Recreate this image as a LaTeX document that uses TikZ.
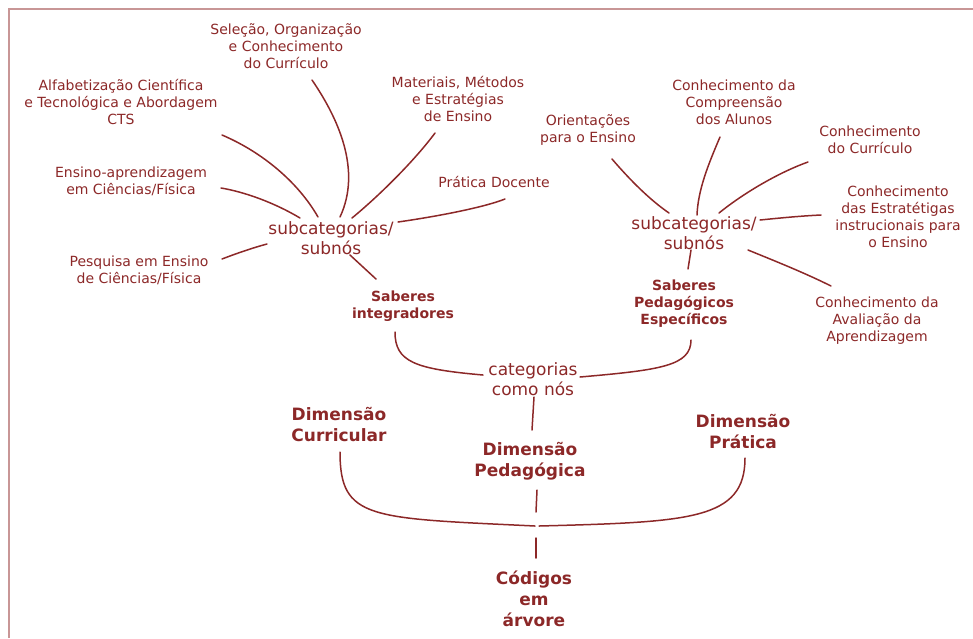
\documentclass[tikz,border=0pt]{standalone}
\usepackage{fontspec}
\setmainfont{DejaVu Sans}
\definecolor{ink}{RGB}{140,40,40}
\definecolor{frame}{RGB}{200,150,150}
\tikzset{
  lbl/.style={text=ink,inner sep=0pt,align=center,font=\fontsize{14}{17}\selectfont},
  sublbl/.style={text=ink,inner sep=0pt,align=center,font=\fontsize{17}{20}\selectfont},
  sablbl/.style={text=ink,inner sep=0pt,align=center,font=\bfseries\fontsize{14}{17}\selectfont},
  dimlbl/.style={text=ink,inner sep=0pt,align=center,font=\bfseries\fontsize{17}{21}\selectfont},
  conn/.style={draw=ink,line width=1.5pt,line cap=round},
}
\begin{document}
\begin{tikzpicture}[x=1pt,y=-1pt]
\useasboundingbox (0,0) rectangle (973,638);
\draw[frame,line width=2pt] (9,638) -- (9,9) -- (973,9);

% left cluster
\node[lbl] (sel) at (286,46) {Seleção, Organização\\e Conhecimento\\do Currículo};
\node[lbl] (alf) at (121,102) {Alfabetização Científica\\e Tecnológica e Abordagem\\CTS};
\node[lbl] (ens) at (131,181) {Ensino-aprendizagem\\em Ciências/Física};
\node[lbl] (pes) at (139,270) {Pesquisa em Ensino\\de Ciências/Física};
\node[lbl] (mat) at (458,99) {Materiais, Métodos\\e Estratégias\\de Ensino};
\node[lbl] (pra) at (494,182) {Prática Docente};
\node[sublbl] (sub1) at (331,238) {subcategorias/\\subnós};
\node[sablbl] (sab1) at (403,306) {Saberes\\integradores};

% right cluster
\node[lbl] (ori) at (588,130) {Orientações\\para o Ensino};
\node[lbl] (ccompr) at (734,102) {Conhecimento da\\Compreensão\\dos Alunos};
\node[lbl] (ccur) at (870,140) {Conhecimento\\do Currículo};
\node[lbl] (cest) at (898,217) {Conhecimento\\das Estratétigas\\instrucionais para\\o Ensino};
\node[lbl] (caval) at (877,321) {Conhecimento da\\Avaliação da\\Aprendizagem};
\node[sublbl] (sub2) at (694,233) {subcategorias/\\subnós};
\node[sablbl] (sab2) at (684,304) {Saberes\\Pedagógicos\\Específicos};

% bottom
\node[sublbl] (cat) at (533,379) {categorias\\como nós};
\node[dimlbl] (dcur) at (339,424) {Dimensão\\Curricular};
\node[dimlbl] (dped) at (530,461) {Dimensão\\Pedagógica};
\node[dimlbl] (dpra) at (743,431) {Dimensão\\Prática};
\node[dimlbl] (cod) at (534,599) {Códigos\\em\\árvore};
\coordinate (j) at (537,526);

% left connectors
\draw[conn] ([shift={(26,34)}]sel.center) .. controls (338,118) and (362,170) .. ([shift={(9,-21)}]sub1.center);
\draw[conn] ([shift={(101,33)}]alf.center) .. controls (262,152) and (298,182) .. ([shift={(-13,-21)}]sub1.center);
\draw[conn] ([shift={(90,7)}]ens.center) .. controls (245,192) and (275,203) .. ([shift={(-31,-20)}]sub1.center);
\draw[conn] ([shift={(83,-11)}]pes.center) .. controls (235,254) and (252,248) .. ([shift={(-64,6)}]sub1.center);
\draw[conn] ([shift={(-23,34)}]mat.center) .. controls (415,160) and (380,195) .. ([shift={(21,-20)}]sub1.center);
\draw[conn] ([shift={(11,17)}]pra.center) .. controls (485,207) and (440,216) .. ([shift={(67,-16)}]sub1.center);
\draw[conn] ([shift={(19,17)}]sub1.center) -- ([shift={(-27,-27)}]sab1.center);

% right connectors
\draw[conn] ([shift={(24,29)}]ori.center) .. controls (630,180) and (650,200) .. ([shift={(-25,-20)}]sub2.center);
\draw[conn] ([shift={(-14,35)}]ccompr.center) .. controls (708,165) and (698,190) .. ([shift={(3,-18)}]sub2.center);
\draw[conn] ([shift={(-62,22)}]ccur.center) .. controls (780,172) and (745,192) .. ([shift={(25,-20)}]sub2.center);
\draw[conn] ([shift={(-77,-2)}]cest.center) .. controls (800,216) and (780,218) .. ([shift={(66,-13)}]sub2.center);
\draw[conn] ([shift={(54,17)}]sub2.center) .. controls (775,261) and (805,273) .. ([shift={(-46,-35)}]caval.center);
\draw[conn] ([shift={(-3,17)}]sub2.center) -- ([shift={(4,-35)}]sab2.center);

% bottom connectors
\draw[conn] ([shift={(-8,26)}]sab1.center) .. controls (395,362) and (415,369) .. ([shift={(-50,-4)}]cat.center);
\draw[conn] ([shift={(7,36)}]sab2.center) .. controls (691,366) and (660,370) .. ([shift={(47,-2)}]cat.center);
\draw[conn] ([shift={(1,18)}]cat.center) -- ([shift={(2,-31)}]dped.center);
\draw[conn] ([shift={(1,28)}]dcur.center) .. controls (340,520) and (370,518) .. ([shift={(-2,0)}]j);
\draw[conn] ([shift={(2,27)}]dpra.center) .. controls (745,520) and (690,522) .. ([shift={(2,0)}]j);
\draw[conn] ([shift={(7,29)}]dped.center) -- ([shift={(-1,-14)}]j);
\draw[conn] ([shift={(-1,12)}]j) -- ([shift={(2,-41)}]cod.center);
\end{tikzpicture}
\end{document}
